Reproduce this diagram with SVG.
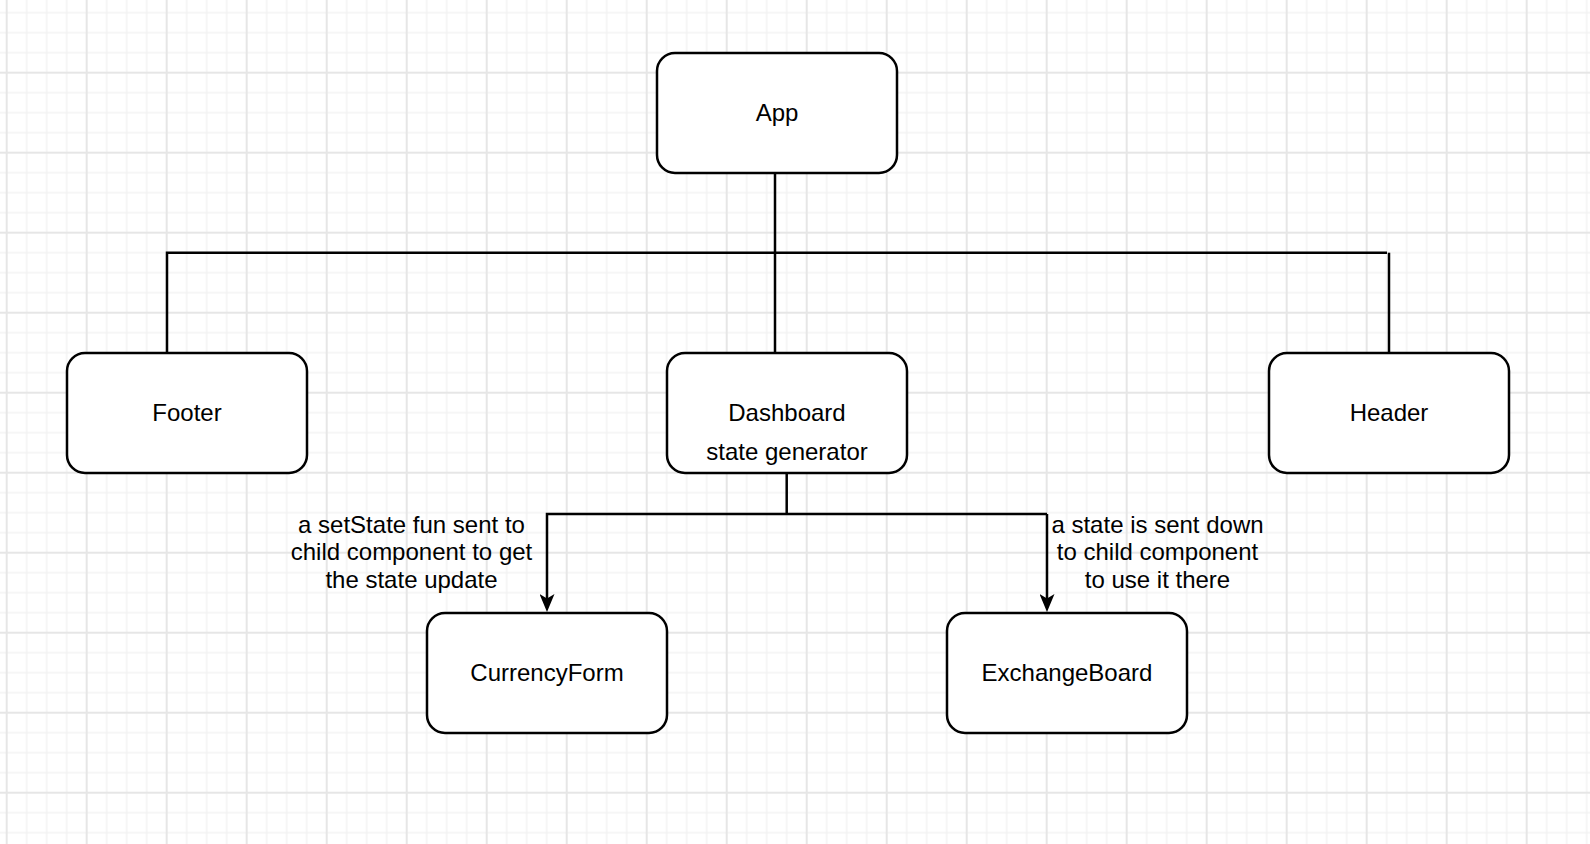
<svg xmlns="http://www.w3.org/2000/svg" width="1590" height="844" viewBox="0 0 1590 844">
  <style>
    .node rect { fill: #ffffff; stroke: #000000; stroke-width: 2.5; }
    .node text, .label { font-family: "Liberation Sans", Arial, Helvetica, sans-serif; font-size: 24px; fill: #000000; text-anchor: middle; }
    .edge { fill: none; stroke: #000000; stroke-width: 2.5; }
    .minor { stroke: #f3f3f3; stroke-width: 1.5; }
    .major { stroke: #e6e6e6; stroke-width: 2; }
  </style>
  <defs>
    <pattern id="grid" patternUnits="userSpaceOnUse" x="-3.3" y="-17.3" width="80" height="80">
      <path class="minor" d="M30,0V80M50,0V80M70,0V80M0,30H80M0,50H80M0,70H80"/>
      <path class="major" d="M10,0V80M0,10H80"/>
    </pattern>
    <marker id="arrow" markerUnits="userSpaceOnUse" viewBox="0 0 18 15" markerWidth="18" markerHeight="15" refX="6" refY="7.5" orient="auto">
      <path d="M0,0 L18,7.5 L0,15 L4.5,7.5 Z" fill="#000000"/>
    </marker>
  </defs>
  <rect width="1590" height="844" fill="#ffffff"/>
  <rect width="1590" height="844" fill="url(#grid)"/>

  <g id="connectors">
    <path class="edge" d="M775,173 V353"/>
    <path class="edge" d="M167,353 V252.7 H1387"/>
    <path class="edge" d="M1389,252.7 V353"/>
    <path class="edge" d="M786.7,473 V514"/>
    <path class="edge" d="M1047,514 H547 V600" marker-end="url(#arrow)"/>
    <path class="edge" d="M1047,514 V600" marker-end="url(#arrow)"/>
  </g>

  <g id="node-app" class="node">
    <rect x="657" y="53" width="240" height="120" rx="18" ry="18"/>
    <text x="777" y="121">App</text>
  </g>
  <g id="node-footer" class="node">
    <rect x="67" y="353" width="240" height="120" rx="18" ry="18"/>
    <text x="187" y="421">Footer</text>
  </g>
  <g id="node-dashboard" class="node">
    <rect x="667" y="353" width="240" height="120" rx="18" ry="18"/>
    <text x="787" y="421">Dashboard</text>
    <text x="787" y="460">state generator</text>
  </g>
  <g id="node-header" class="node">
    <rect x="1269" y="353" width="240" height="120" rx="18" ry="18"/>
    <text x="1389" y="421">Header</text>
  </g>
  <g id="node-currencyform" class="node">
    <rect x="427" y="613" width="240" height="120" rx="18" ry="18"/>
    <text x="547" y="681">CurrencyForm</text>
  </g>
  <g id="node-exchangeboard" class="node">
    <rect x="947" y="613" width="240" height="120" rx="18" ry="18"/>
    <text x="1067" y="681">ExchangeBoard</text>
  </g>

  <g id="edge-labels">
    <text class="label" x="411.5" y="532.7">a setState fun sent to</text>
    <text class="label" x="411.5" y="560.2">child component to get</text>
    <text class="label" x="411.5" y="587.7">the state update</text>
    <text class="label" x="1157.5" y="532.7">a state is sent down</text>
    <text class="label" x="1157.5" y="560.2">to child component</text>
    <text class="label" x="1157.5" y="587.7">to use it there</text>
  </g>
</svg>
